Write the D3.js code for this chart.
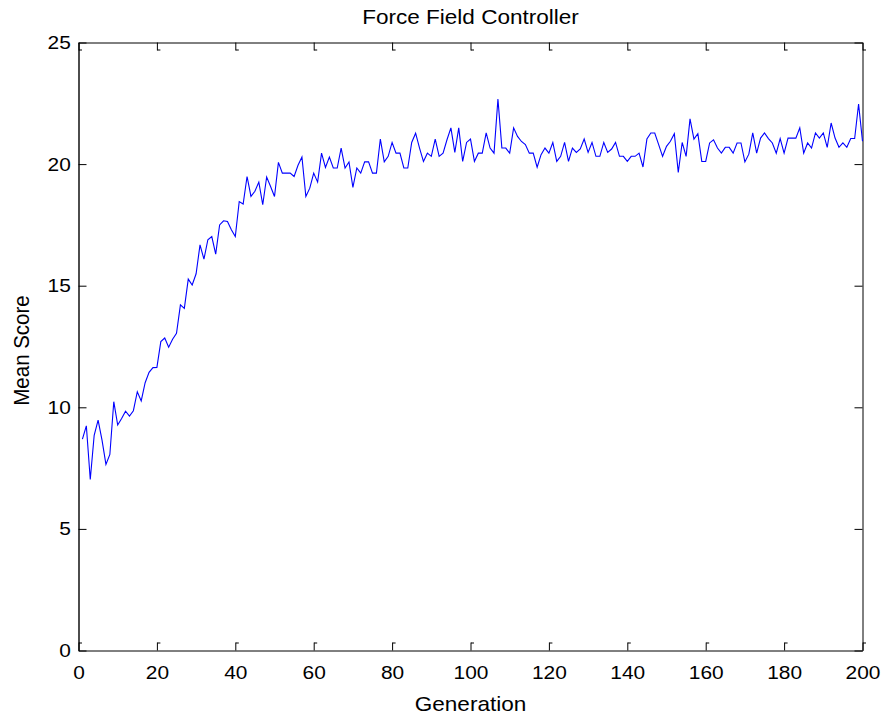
<!DOCTYPE html>
<html>
<head>
<meta charset="utf-8">
<script src="https://cdn.jsdelivr.net/npm/d3@7"></script>
<style>
  html, body { margin: 0; padding: 0; background: #fff; }
  svg { display: block; }
  text { font-family: "Liberation Sans", Arial, Helvetica, sans-serif; fill: #000; }
</style>
</head>
<body>
<svg id="chart" width="886" height="715"></svg>
<script>
// Mean score per generation (generations 1..200)
const scores = [
  8.69, 9.24, 7.03, 8.85, 9.47, 8.65, 7.65, 8.06, 10.23, 9.27,
  9.54, 9.84, 9.64, 9.86, 10.64, 10.26, 11.01, 11.44, 11.63, 11.64,
  12.70, 12.85, 12.47, 12.80, 13.04,
  14.21, 14.07, 15.27, 15.03, 15.49, 16.68, 16.09, 16.89, 17.02, 16.30,
  17.50, 17.67, 17.64, 17.30, 17.02, 18.46, 18.36, 19.49, 18.67, 18.88,
  19.26, 18.33, 19.47, 19.08, 18.67, 20.07, 19.63,
  19.63, 19.63, 19.49, 19.95, 20.29, 18.67, 19.01, 19.63, 19.26, 20.45,
  19.86, 20.29, 19.84, 19.84, 20.66, 19.84, 20.09, 19.04, 19.84, 19.63,
  20.09, 20.09, 19.63, 19.63, 21.03, 20.09, 20.32, 20.89, 20.45, 20.45,
  19.84, 19.84, 20.89, 21.27,
  20.66, 20.11, 20.45, 20.32, 21.03, 20.32, 20.45, 21.00, 21.49, 20.48,
  21.49, 20.11, 20.89, 21.03, 20.11, 20.45, 20.45, 21.28, 20.66, 20.45,
  22.68, 20.66, 20.66, 20.45, 21.49, 21.14, 20.93, 20.80, 20.45, 20.45,
  19.87, 20.39, 20.66, 20.45, 20.89, 20.11,
  20.32, 20.89, 20.11, 20.66, 20.48, 20.62, 21.03, 20.48, 20.89, 20.32,
  20.32, 20.89, 20.48, 20.62, 20.89, 20.32, 20.32, 20.11, 20.32, 20.32,
  20.45, 19.88, 21.03, 21.28, 21.28, 20.80, 20.32, 20.73, 20.94, 21.25,
  19.66, 20.89, 20.32, 21.86, 21.03, 21.25, 20.11, 20.11,
  20.87, 21.00, 20.66, 20.45, 20.69, 20.69, 20.45, 20.87, 20.87, 20.09,
  20.41, 21.28, 20.45, 21.07, 21.28, 21.05, 20.87, 20.45, 21.05, 20.45,
  21.07, 21.07, 21.07, 21.49, 20.45, 20.87, 20.66, 21.28, 21.07, 21.28,
  20.69, 21.69, 21.07, 20.69, 20.87, 20.69, 21.05, 21.05, 22.47, 20.94
];
const firstGeneration = 1;

const xTicks = [0, 20, 40, 60, 80, 100, 120, 140, 160, 180, 200];
const yTicks = [0, 5, 10, 15, 20, 25];
const xDomain = [0, 200];
const yDomain = [0, 25];

const titleText = "Force Field Controller";
const xLabel = "Generation";
const yLabel = "Mean Score";

// Plot frame
const frame = { left: 78.5, right: 862.5, top: 42.5, bottom: 650.5 };
const stretch = 1.1;         // text is drawn slightly wide
const tickLen = 8;

const svg = d3.select("#chart");

const x = d3.scaleLinear().domain(xDomain).range([frame.left, frame.right]);
const y = d3.scaleLinear().domain(yDomain).range([frame.bottom, frame.top]);

// Axes with inward ticks on all four sides
function styleAxis(g) {
  g.selectAll("path.domain").attr("stroke", "#000").attr("stroke-width", 1);
  g.selectAll(".tick line").attr("stroke", "#000").attr("stroke-width", 1);
  g.selectAll("text")
    .attr("font-size", 19)
    .attr("font-family", "'Liberation Sans', Arial, sans-serif")
    .attr("fill", "#000")
    .attr("transform", `scale(${stretch},1)`);
}

const gBottom = svg.append("g")
  .attr("transform", `translate(0,${frame.bottom})`)
  .call(d3.axisBottom(x).tickValues(xTicks).tickSize(-tickLen).tickSizeOuter(0)
        .tickPadding(15.5).tickFormat(d3.format("d")))
  .call(styleAxis);

const gTop = svg.append("g")
  .attr("transform", `translate(0,${frame.top})`)
  .call(d3.axisTop(x).tickValues(xTicks).tickSize(-tickLen).tickSizeOuter(0).tickFormat(""))
  .call(styleAxis);

const gLeft = svg.append("g")
  .attr("transform", `translate(${frame.left},0)`)
  .call(d3.axisLeft(y).tickValues(yTicks).tickSize(-tickLen).tickSizeOuter(0)
        .tickPadding(7).tickFormat(d3.format("d")))
  .call(styleAxis);

const gRight = svg.append("g")
  .attr("transform", `translate(${frame.right},0)`)
  .call(d3.axisRight(y).tickValues(yTicks).tickSize(-tickLen).tickSizeOuter(0).tickFormat(""))
  .call(styleAxis);

// small feet at the inner end of the x ticks
gBottom.selectAll(".tick").append("line")
  .attr("x1", 0).attr("x2", 3).attr("y1", -tickLen + 0.5).attr("y2", -tickLen + 0.5)
  .attr("stroke", "#000");
gTop.selectAll(".tick").append("line")
  .attr("x1", 0).attr("x2", 3).attr("y1", tickLen - 0.5).attr("y2", tickLen - 0.5)
  .attr("stroke", "#000");

gLeft.select("path.domain").attr("stroke-width", 1.4);

// Score line
const line = d3.line()
  .x((d, i) => x(firstGeneration + i))
  .y(d => y(d));

svg.append("path")
  .datum(scores)
  .attr("fill", "none")
  .attr("stroke", "#0000ff")
  .attr("stroke-width", 1.1)
  .attr("stroke-linejoin", "miter")
  .attr("d", line);

// Title and axis labels
svg.append("text")
  .attr("transform", `translate(${(frame.left + frame.right) / 2},24) scale(${stretch},1)`)
  .attr("text-anchor", "middle")
  .attr("font-size", 20.5)
  .text(titleText);

svg.append("text")
  .attr("transform", `translate(${(frame.left + frame.right) / 2},711) scale(${stretch},1)`)
  .attr("text-anchor", "middle")
  .attr("font-size", 20.5)
  .text(xLabel);

svg.append("text")
  .attr("transform", `translate(29,${(frame.top + frame.bottom) / 2 + 4}) scale(${stretch},1) rotate(-90)`)
  .attr("text-anchor", "middle")
  .attr("font-size", 20.5)
  .text(yLabel);
</script>
</body>
</html>
